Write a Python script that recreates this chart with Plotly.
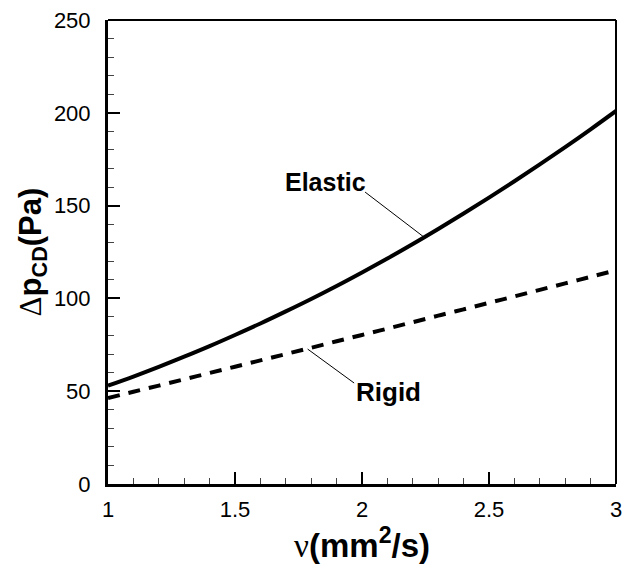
import plotly.graph_objects as go

# Data
nu = [1.0, 1.1, 1.2, 1.3, 1.4, 1.5, 1.6, 1.7, 1.8, 1.9, 2.0,
      2.1, 2.2, 2.3, 2.4, 2.5, 2.6, 2.7, 2.8, 2.9, 3.0]
dp_elastic = [53.0, 57.9, 63.1, 68.6, 74.3, 80.3, 86.5, 93.0, 99.7, 106.7, 114.0,
              121.5, 129.3, 137.4, 145.7, 154.3, 163.1, 172.2, 181.5, 191.1, 201.0]
dp_rigid = [46.3, 49.7, 53.0, 56.4, 59.8, 63.2, 66.6, 70.0, 73.4, 76.9, 80.3,
            83.7, 87.2, 90.7, 94.1, 97.6, 101.1, 104.6, 108.1, 111.6, 115.1]

x_ticks = [1, 1.5, 2, 2.5, 3]
x_ticklabels = ["1", "1.5", "2", "2.5", "3"]
y_ticks = [0, 50, 100, 150, 200, 250]
y_ticklabels = ["0", "50", "100", "150", "200", "250"]

FONT = "Liberation Sans, Arial, sans-serif"

fig = go.Figure()
fig.add_trace(go.Scatter(x=nu, y=dp_elastic, mode="lines", name="Elastic",
                         line=dict(color="black", width=4, shape="spline")))
fig.add_trace(go.Scatter(x=nu, y=dp_rigid, mode="lines", name="Rigid",
                         line=dict(color="black", width=4, dash="12px,9px", shape="spline")))

# Labels with leader lines
fig.add_annotation(x=1.857, y=162.7, text="<b>Elastic</b>", showarrow=False,
                   font=dict(family=FONT, size=25, color="black"))
fig.add_shape(type="line", x0=2.012, y0=157.3, x1=2.249, y1=132.5,
              line=dict(color="black", width=1))
fig.add_annotation(x=2.105, y=49.8, text="<b>Rigid</b>", showarrow=False,
                   font=dict(family=FONT, size=26, color="black"))
fig.add_shape(type="line", x0=1.786, y0=72.7, x1=1.969, y1=54.4,
              line=dict(color="black", width=1))

# top / right frame
fig.add_shape(type="line", xref="paper", yref="paper", x0=0, y0=1, x1=1, y1=1,
              line=dict(color="black", width=2))
fig.add_shape(type="line", xref="paper", yref="paper", x0=1, y0=0, x1=1, y1=1,
              line=dict(color="black", width=2))

fig.update_layout(
    width=629, height=570,
    margin=dict(l=108, r=7, t=20, b=86),
    paper_bgcolor="white", plot_bgcolor="white",
    showlegend=False,
    font=dict(family=FONT, size=22, color="black"),
    xaxis=dict(
        range=[1, 3], tickvals=x_ticks, ticktext=x_ticklabels,
        showgrid=False, zeroline=False,
        showline=True, linecolor="black", linewidth=3,
        ticks="inside", ticklen=12, tickwidth=2, tickcolor="black",
        minor=dict(ticks="inside", ticklen=6, tickwidth=1, tickcolor="#444", dtick=0.1, showgrid=False),
        tickfont=dict(family=FONT, size=22), ticklabelstandoff=4,
        title=dict(text="<span style='font-family:Liberation Serif'>ν</span><b>(mm<sup>2</sup>/s)</b>",
                   font=dict(family=FONT, size=33), standoff=2),
    ),
    yaxis=dict(
        range=[0, 250], tickvals=y_ticks, ticktext=y_ticklabels,
        showgrid=False, zeroline=False,
        showline=True, linecolor="black", linewidth=3,
        ticks="inside", ticklen=12, tickwidth=2, tickcolor="black",
        minor=dict(ticks="inside", ticklen=6, tickwidth=1, tickcolor="#444", dtick=10, showgrid=False),
        tickfont=dict(family=FONT, size=22), ticklabelstandoff=10,
        title=dict(text="<span style='font-family:Liberation Serif'>Δ</span><b>p<sub>CD</sub>(Pa)</b>",
                   font=dict(family=FONT, size=31), standoff=4),
    ),
)

fig.write_html("out.html", config={"displayModeBar": False},
               post_script="document.body.style.margin='0';document.body.style.overflow='hidden';")
